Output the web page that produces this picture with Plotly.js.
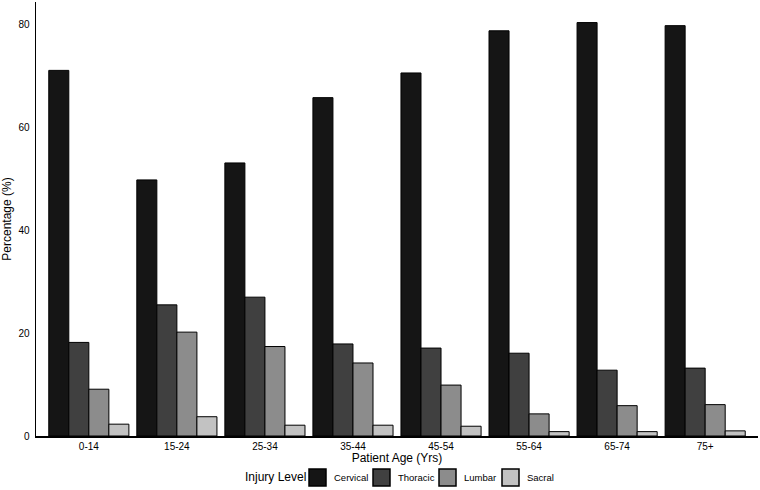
<!DOCTYPE html>
<html>
<head>
<meta charset="utf-8">
<script src="https://cdn.plot.ly/plotly-3.0.1.min.js"></script>
<style>html,body{margin:0;padding:0;background:#fff;}#chart{width:760px;height:490px;}</style>
</head>
<body>
<div id="chart"></div>
<script>
var ageGroups = ["0-14","15-24","25-34","35-44","45-54","55-64","65-74","75+"];
var cervical = [71.1, 49.8, 53.1, 65.8, 70.6, 78.8, 80.4, 79.8];
var thoracic = [18.2, 25.5, 27.0, 17.9, 17.1, 16.1, 12.8, 13.2];
var lumbar   = [9.1, 20.2, 17.4, 14.2, 9.9, 4.3, 5.9, 6.1];
var sacral   = [2.3, 3.75, 2.1, 2.1, 1.9, 0.85, 0.85, 1.0];
var seriesNames = ["Cervical","Thoracic","Lumbar","Sacral"];
var seriesColors = ["#151515","#404040","#8c8c8c","#c2c2c2"];
var seriesValues = [cervical, thoracic, lumbar, sacral];

var FONT = "Liberation Sans, Arial, sans-serif";
var traces = seriesValues.map(function(v,i){
  return {type:"bar", name:seriesNames[i], x:ageGroups, y:v, showlegend:false,
    marker:{color:seriesColors[i], line:{color:"#000", width:1}}};
});

// custom legend (pixel layout converted to paper coords)
var L = 36, R = 758, T = 2, B = 436;
function px(x){ return (x - L) / (R - L); }
function py(y){ return (B - y) / (B - T); }
var swatchLeft = [309, 373, 439, 502];
var shapes = [], annotations = [];
annotations.push({xref:"paper", yref:"paper", x:px(243), y:py(477), xanchor:"left", yanchor:"middle",
  text:"Injury Level", showarrow:false, font:{family:FONT, size:12, color:"#000"}});
seriesNames.forEach(function(n,i){
  var x0 = swatchLeft[i];
  shapes.push({type:"rect", xref:"paper", yref:"paper", x0:px(x0), x1:px(x0+17), y0:py(486), y1:py(469),
    fillcolor:seriesColors[i], line:{color:"#000", width:1.5}});
  annotations.push({xref:"paper", yref:"paper", x:px(x0+23), y:py(477.5), xanchor:"left", yanchor:"middle",
    text:n, showarrow:false, font:{family:FONT, size:9.5, color:"#000"}});
});

var layout = {
  width:760, height:490,
  margin:{l:36, r:2, t:2, b:54, autoexpand:false},
  barmode:"group", bargap:0.09, bargroupgap:0,
  paper_bgcolor:"#fff", plot_bgcolor:"#fff",
  font:{family:FONT, size:10, color:"#000"},
  xaxis:{range:[-0.6,7.6], showline:true, linecolor:"#000", linewidth:1.5,
    ticks:"", showgrid:false, zeroline:false, automargin:false,
    tickfont:{size:10, color:"#000"}, title:{text:"Patient Age (Yrs)", font:{size:12, color:"#000"}, standoff:0}},
  yaxis:{range:[0,84.4], showline:true, linecolor:"#000", linewidth:1.5,
    ticks:"", dtick:20, showgrid:false, zeroline:false, automargin:false, ticklabelstandoff:3,
    tickfont:{size:10, color:"#000"}, title:{text:"Percentage (%)", font:{size:12, color:"#000"}, standoff:10}},
  shapes:shapes, annotations:annotations,
  showlegend:false
};
Plotly.newPlot("chart", traces, layout, {displayModeBar:false, staticPlot:true});
</script>
</body>
</html>
